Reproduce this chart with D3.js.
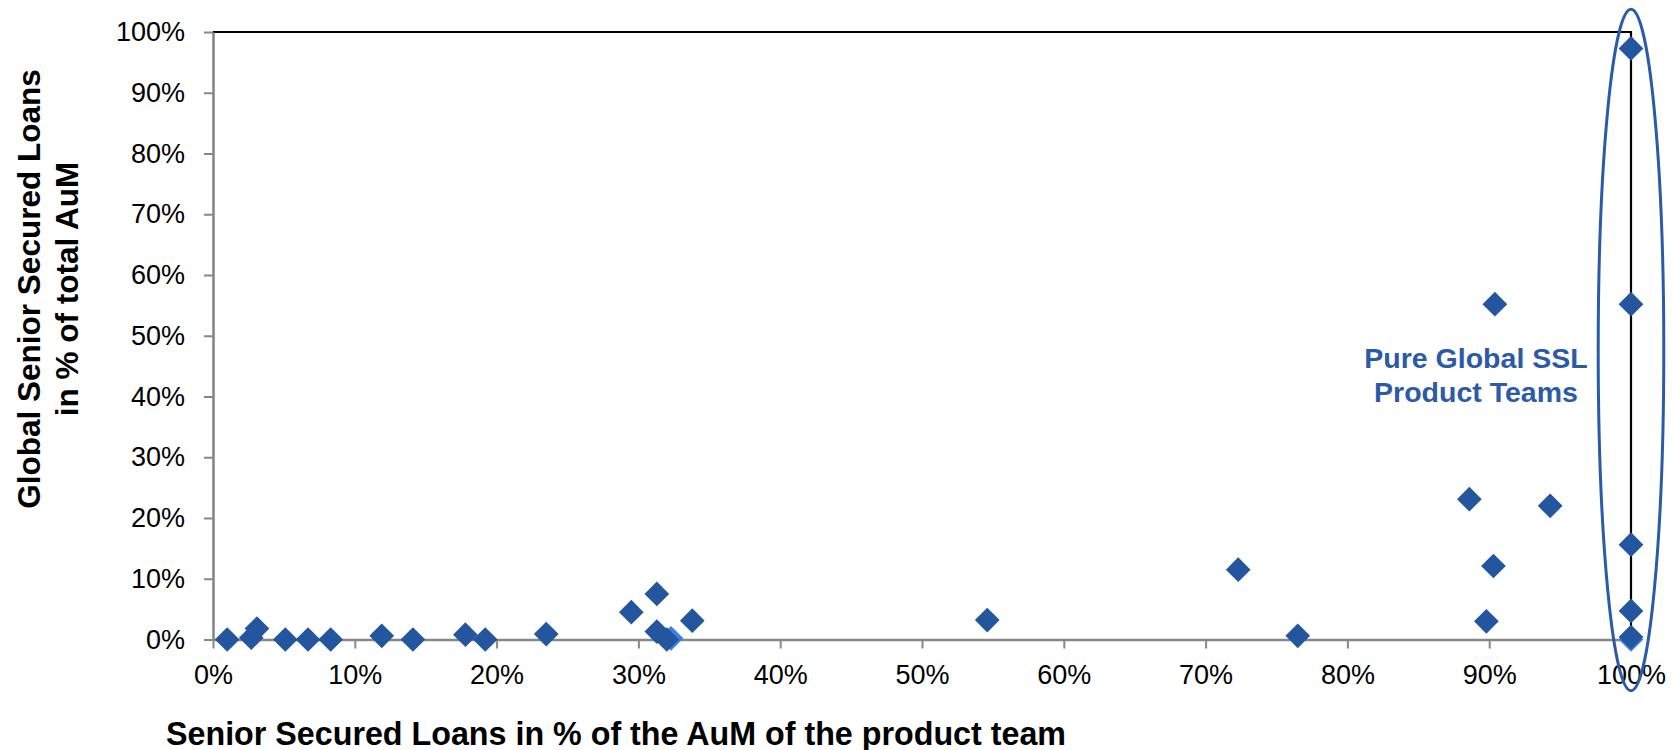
<!DOCTYPE html>
<html>

<head>
    <meta charset="utf-8">
    <script src="https://d3js.org/d3.v7.min.js"></script>
    <style>
        body {
            margin: 0;
            background: #fff;
            overflow: hidden;
        }

        #chart svg text {
            font-family: "Liberation Sans", Arial, sans-serif;
        }

        #chart svg .axis text {
            font-size: 27px;
            fill: #000;
        }

        #chart svg .axis path,
        #chart svg .axis line {
            stroke: #878787;
        }

        #chart svg .title {
            font-weight: bold;
            fill: #000;
        }
    </style>
</head>

<body>
    <div id="chart"></div>
    <script>
        // x: Senior Secured Loans in % of the AuM of the product team
        // y: Global Senior Secured Loans in % of total AuM
        var teamShare = [1.0, 2.7, 3.1, 5.1, 6.7, 8.3, 11.9, 14.1, 17.8, 19.2, 23.5, 29.5, 31.3, 31.3, 32.0,
            33.8, 54.6, 72.3, 76.5, 88.6, 89.8, 90.3, 90.4, 94.3, 100, 100, 100, 100, 100];
        var globalShare = [0, 0.3, 1.8, 0, 0, 0, 0.6, 0, 0.8, 0, 0.9, 4.5, 7.5, 1.3, 0,
            3.1, 3.2, 11.5, 0.6, 23.1, 3.0, 12.1, 55.2, 22.0, 97.3, 55.2, 15.6, 4.7, 0.4];

        // second (lighter) series, sits behind the main one
        var lightTeamShare = [32.3, 100];
        var lightGlobalShare = [0.2, 0];

        var xTicks = [0, 10, 20, 30, 40, 50, 60, 70, 80, 90, 100];
        var yTicks = [0, 10, 20, 30, 40, 50, 60, 70, 80, 90, 100];

        var xTitle = "Senior Secured Loans in % of the AuM of the product team";
        var yTitle = ["Global Senior Secured Loans", "in % of total AuM"];
        var note = ["Pure Global SSL", "Product Teams"];

        var width = 1673;
        var height = 750;
        var plot = { left: 213, right: 1631, top: 32, bottom: 639.5 };

        var dark = "#2456a0";
        var light = "#3b80dc";
        var noteColor = "#2b5ba8";

        var svg = d3.select("#chart").append("svg")
            .attr("width", width)
            .attr("height", height);

        var x = d3.scaleLinear().domain([0, 100]).range([plot.left, plot.right]);
        var y = d3.scaleLinear().domain([0, 100]).range([plot.bottom, plot.top]);

        // top and right frame
        svg.append("path")
            .attr("d", `M${plot.left},${plot.top}H${plot.right}V${plot.bottom}`)
            .attr("fill", "none")
            .attr("stroke", "#000")
            .attr("stroke-width", 2.2);

        // axes
        var yAxis = svg.append("g").attr("class", "axis")
            .attr("transform", `translate(${plot.left},0)`)
            .call(d3.axisLeft(y).tickValues(yTicks).tickFormat(d => d + "%")
                .tickSize(9).tickSizeOuter(0).tickPadding(19));

        var xAxis = svg.append("g").attr("class", "axis")
            .attr("transform", `translate(0,${plot.bottom})`)
            .call(d3.axisBottom(x).tickValues(xTicks).tickFormat(d => d + "%")
                .tickSize(9).tickSizeOuter(0).tickPadding(16));

        svg.selectAll(".axis path").attr("stroke-width", 2.6);
        svg.selectAll(".axis line").attr("stroke-width", 2);
        svg.selectAll(".axis text").attr("font-family", null).attr("font-size", null);

        // points
        var diamond = d3.symbol().type(d3.symbolDiamond2).size(390);

        svg.append("g").attr("class", "lightPoints")
            .selectAll("path")
            .data(d3.range(lightTeamShare.length))
            .enter().append("path")
            .attr("d", diamond)
            .attr("transform", i => `translate(${x(lightTeamShare[i])},${y(lightGlobalShare[i])})`)
            .attr("fill", light);

        svg.append("g").attr("class", "points")
            .selectAll("path")
            .data(d3.range(teamShare.length))
            .enter().append("path")
            .attr("d", diamond)
            .attr("transform", i => `translate(${x(teamShare[i])},${y(globalShare[i])})`)
            .attr("fill", dark);

        // ellipse round the 100% teams
        svg.append("ellipse")
            .attr("cx", x(100))
            .attr("cy", 350)
            .attr("rx", 32.8)
            .attr("ry", 340.7)
            .attr("fill", "none")
            .attr("stroke", noteColor)
            .attr("stroke-width", 3);

        svg.append("g").selectAll("text")
            .data(note)
            .enter().append("text")
            .attr("class", "title")
            .attr("x", 1476)
            .attr("y", (d, i) => 368 + i * 34)
            .attr("text-anchor", "middle")
            .attr("font-size", 28.5)
            .attr("fill", noteColor)
            .style("fill", noteColor)
            .text(d => d);

        // axis titles
        svg.append("text")
            .attr("class", "title")
            .attr("x", 166)
            .attr("y", 745)
            .attr("font-size", 32.5)
            .attr("textLength", 900)
            .attr("lengthAdjust", "spacingAndGlyphs")
            .text(xTitle);

        svg.append("g").selectAll("text")
            .data(yTitle)
            .enter().append("text")
            .attr("class", "title")
            .attr("transform", (d, i) => `translate(${39.5 + i * 38},289) rotate(-90)`)
            .attr("text-anchor", "middle")
            .attr("font-size", 31.5)
            .text(d => d);
    </script>
</body>

</html>
